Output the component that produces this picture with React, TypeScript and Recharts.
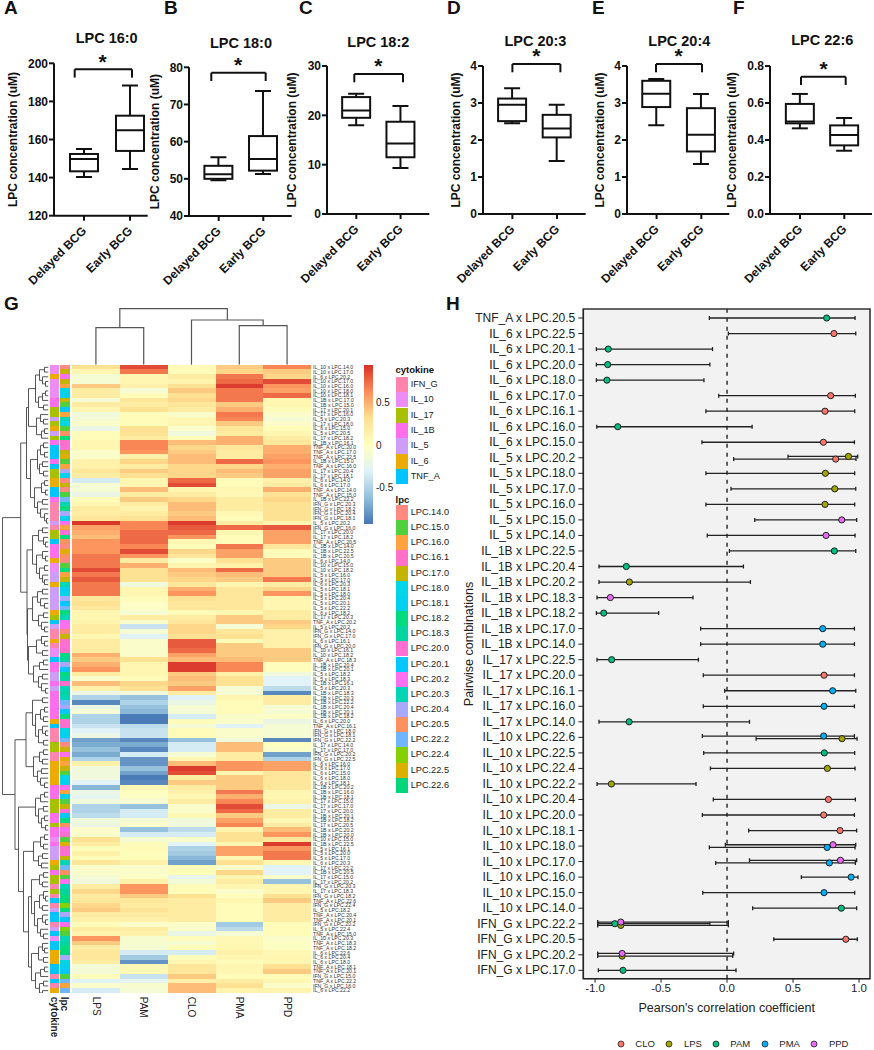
// LPC concentration box plots (A-F), cytokine x LPC correlation heatmap (G), forest plot (H)
import {
  Bar, BarChart, Cell, ComposedChart, ErrorBar, Line, LineChart, ReferenceArea, ReferenceLine,
  Scatter, ScatterChart, XAxis, YAxis,
} from 'recharts'

const FONT = '"Liberation Sans", Arial, sans-serif'
const INK = '#111'

// ---------- box plots: [min, q1, median, q3, max] for Delayed BCG, Early BCG
const groups = ['Delayed BCG', 'Early BCG']
const lpc160 = [[140.3, 143.3, 149.8, 152.4, 155], [144.5, 154, 164.8, 172.5, 188.3]]
const lpc180 = [[49.6, 50, 51.2, 53.5, 55.8], [51.3, 52.2, 55.3, 61.5, 73.6]]
const lpc182 = [[18, 19.5, 21, 23.7, 24.4], [9.3, 11.5, 14.3, 18.7, 21.9]]
const lpc203 = [[2.45, 2.51, 2.95, 3.12, 3.4], [1.43, 2.07, 2.31, 2.68, 2.95]]
const lpc204 = [[2.4, 2.89, 3.25, 3.6, 3.65], [1.35, 1.69, 2.14, 2.86, 3.24]]
const lpc226 = [[0.463, 0.49, 0.5, 0.595, 0.649], [0.342, 0.371, 0.427, 0.479, 0.519]]

// ---------- heatmap
const cytokineNames = ['IFN_G', 'IL_10', 'IL_17', 'IL_1B', 'IL_5', 'IL_6', 'TNF_A']
const cytokineColors = ['#FF85AC', '#EE8CF5', '#A9C000', '#FF6FEB', '#CC9EF8', '#EBAB00', '#00C4FF']
const lpcNames = ['LPC.14.0', 'LPC.15.0', 'LPC.16.0', 'LPC.16.1', 'LPC.17.0', 'LPC.18.0', 'LPC.18.1', 'LPC.18.2', 'LPC.18.3', 'LPC.20.0',
  'LPC.20.1', 'LPC.20.2', 'LPC.20.3', 'LPC.20.4', 'LPC.20.5', 'LPC.22.2', 'LPC.22.4', 'LPC.22.5', 'LPC.22.6']
const lpcColors = ['#FF8B80', '#4FD03C', '#FFA23F', '#FF70C8', '#C4B400', '#00D5E8', '#00D0F0', '#00DB80', '#00D4A0', '#FF70D0',
  '#00C8FF', '#FF70F0', '#00D5B5', '#A9A8FF', '#FF9060', '#6FB5FF', '#85D000', '#DDB000', '#00D77D']

const rowCytokines = `IL_10 IL_10 IL_6 IL_10 IL_10 IL_10 IL_10 IL_1B IL_1B IL_17
IL_17 IL_5 IL_17 IL_6 IL_5 IL_17 IL_1B TNF_A TNF_A TNF_A
IL_1B TNF_A IL_17 IL_17 IL_6 IL_6 TNF_A TNF_A IL_1B IFN_G
IFN_G IFN_G IFN_G IL_5 IFN_G IL_17 IL_17 TNF_A IL_1B IL_1B
IL_1B IL_6 IL_10 IL_10 IL_5 IL_5 IL_6 IL_5 IL_5 IL_5
IL_5 IL_5 IL_6 IL_17 TNF_A IL_5 IFN_G IFN_G IL_6 IFN_G
IL_10 IL_10 TNF_A IL_1B IL_1B IL_5 IL_5 IL_1B IL_5 IL_1B
IL_1B IL_1B IL_1B IL_1B IL_1B IL_6 TNF_A IFN_G IFN_G IFN_G
IL_17 IL_17 IFN_G IFN_G IL_6 IL_6 IL_6 IL_6 IL_6 IL_1B
IL_1B IL_1B IL_17 IL_17 IL_17 IL_1B IL_1B IL_17 IL_1B IL_1B
IL_10 IL_1B IL_5 IL_5 IL_5 IL_6 IL_17 IL_1B IL_17 IL_17
IFN_G IL_17 IFN_G TNF_A IFN_G IL_5 TNF_A TNF_A IFN_G IL_5
TNF_A IL_10 TNF_A TNF_A IL_6 IL_6 IL_6 TNF_A TNF_A IFN_G
TNF_A IFN_G IL_6`.split(/\s+/)

const rowLpcs = `14.0 17.0 20.2 17.0 16.0 18.0 18.1 17.0 15.0 20.1
16.0 20.3 18.0 15.0 20.5 18.2 16.1 20.0 17.0 22.5
15.0 16.0 20.4 18.1 14.0 17.0 14.0 15.0 22.2 20.3
18.2 20.4 18.1 20.2 16.0 20.0 18.2 20.5 14.0 22.5
20.5 14.0 15.0 18.2 16.0 17.0 20.3 18.1 18.0 20.4
20.1 22.2 18.2 20.3 20.2 20.2 14.0 17.0 16.1 20.0
16.1 18.2 18.3 20.4 20.1 18.2 18.3 16.1 20.3 18.3
20.3 22.2 20.4 20.1 18.2 20.0 16.1 18.0 18.1 22.2
14.0 17.0 20.2 22.5 16.0 17.0 15.0 18.0 18.1 20.2
16.0 18.1 15.0 17.0 20.0 20.1 18.2 20.5 20.2 20.0
15.0 22.5 16.1 20.0 17.0 20.3 22.2 20.5 15.0 20.2
20.3 18.3 18.2 22.6 22.4 18.2 20.4 20.1 20.2 22.4
15.0 20.3 18.3 18.2 22.6 20.4 18.0 18.1 20.1 15.0
22.2 16.0 22.2`.split(/\s+/).map((s) => 'LPC.' + s)

const lpsValues = [
  0.3, 0.1, -0.1, -0.1, 0.4, 0.2, 0.2, -0.1, 0.2, 0.1,
  -0.15, -0.1, -0.05, -0.2, 0.05, 0.05, 0.1, 0.1, -0.05, -0.05,
  0.15, 0.15, 0.25, 0.2, -0.35, -0.1, -0.1, -0.2, 0.05, 0.1,
  0.2, 0.2, 0.25, 0.92, 0.55, 0.5, 0.45, 0.6, 0.6, 0.6,
  0.7, 0.7, 0.7, 0.85, 0.7, 0.8, 0.7, 0.7, 0.7, 0.25,
  0.3, 0.25, 0.1, 0.1, 0.12, 0.2, 0.2, 0.1, 0.2, 0.2,
  0.2, 0.5, 0.4, 0.5, 0.6, 0.2, -0.05, 0.45, 0.15, -0.2,
  -0.5, -0.85, -0.2, -0.1, -0.5, -0.5, -0.4, -0.3, -0.2, -0.75,
  -0.7, -0.6, -0.7, -0.5, 0.15, -0.15, -0.15, -0.15, -0.3, -0.65,
  -0.2, -0.25, -0.15, -0.5, -0.5, -0.45, -0.15, -0.2, -0.05, -0.05,
  0.3, 0.2, 0.05, 0.15, 0.05, 0.25, -0.05, -0.05, -0.1, -0.15,
  0.2, 0.35, 0.2, 0.25, 0.35, 0.4, 0.2, 0.15, 0.05, 0.2,
  0.12, 0.6, 0.4, 0.2, 0.25, 0.25, 0.2, -0.12, -0.12, 0.05,
  -0.3, -0.05, -0.35,
]
const pamValues = [
  0.85, 0.7, 0.1, 0.1, 0.15, -0.1, 0.05, 0.25, 0.2, 0.3,
  0.05, 0.05, 0.05, 0.3, 0.3, 0.2, 0.65, 0.65, 0.6, 0.15,
  0.35, 0.2, 0.4, 0.3, 0.1, 0.1, 0.45, 0.2, 0.4, 0.2,
  0.12, 0.2, 0.3, 0.65, 0.65, 0.75, 0.75, 0.75, 0.65, 0.85,
  0.6, 0.2, 0.5, 0.3, 0.3, 0.3, -0.15, 0.1, 0.1, 0.05,
  -0.03, -0.03, -0.1, 0.2, -0.05, -0.4, -0.1, -0.3, -0.05, -0.05,
  -0.05, -0.05, 0.3, 0.1, 0.1, 0.1, 0.05, 0.35, 0.3, -0.15,
  -0.6, -0.5, -0.6, -0.65, -0.9, -0.9, -0.45, -0.4, -0.4, -0.85,
  -0.7, -0.85, -0.35, -0.8, -0.8, -0.6, -0.75, -0.9, -0.85, 0.08,
  0, -0.03, -0.1, -0.6, -0.35, -0.35, -0.1, -0.05, -0.6, -0.35,
  -0.1, 0.05, 0.05, 0.03, 0.05, 0.15, -0.05, -0.05, -0.02, 0.15,
  0.6, 0.6, 0.4, 0.25, 0.2, 0.3, 0.2, 0.15, -0.05, 0.2,
  0.15, -0.08, -0.08, -0.1, -0.35, -0.55, -0.8, 0.08, 0.08, -0.4,
  -0.25, -0.08, -0.1,
]
const cloValues = [
  0.05, 0.05, 0.2, 0.12, 0.3, 0.4, 0.3, 0.35, 0.25, 0.2,
  -0.05, 0.1, 0.1, -0.05, -0.15, 0.05, 0.45, 0.35, 0.4, 0.45,
  0.45, 0.35, 0.35, 0.35, 0.75, 0.85, 0.1, 0.2, 0.35, 0.45,
  0.45, 0.4, 0.45, 0.9, 0.8, 0.75, 0.6, 0.1, 0.05, 0.35,
  0.25, -0.03, 0.1, 0.45, 0.4, 0.35, 0.25, 0.5, 0.6, 0.3,
  0.25, 0.25, 0.05, 0.2, 0.25, 0.35, 0.35, 0.3, 0.8, 0.8,
  0.75, 0.55, 0.45, 0.9, 0.9, 0.4, 0.45, 0.4, 0.55, 0.2,
  -0.3, -0.2, -0.1, -0.1, -0.35, 0.05, -0.1, 0.05, 0.05, -0.6,
  -0.35, -0.35, -0.1, 0.1, 0.45, 0.9, 0.85, 0.2, 0.4, 0.2,
  0.15, 0.1, 0.2, -0.05, -0.05, 0.08, -0.15, -0.15, -0.45, -0.35,
  -0.05, -0.3, -0.5, -0.55, -0.65, -0.75, 0.05, 0.05, -0.25, -0.12,
  0.05, 0.05, 0.3, 0.2, 0.2, 0.2, 0.2, 0.2, -0.05, -0.05,
  -0.2, 0.05, -0.1, 0.05, -0.35, 0.05, 0.1, 0.25, 0.25, 0.4,
  0.15, 0.45, 0.45,
]
const pmaValues = [
  0.4, 0.35, 0.7, 0.75, 0.9, 0.7, 0.7, 0.7, 0.4, 0.5,
  0.7, 0.65, 0.4, 0.25, 0.2, 0.5, 0.5, 0.25, 0.2, 0.2,
  0.75, 0.35, 0.45, 0.4, 0.05, 0.05, 0.1, 0.08, 0.2, 0.2,
  0.2, 0.08, 0.05, 0.2, 0.75, 0.1, 0.05, 0.05, 0.7, 0.55,
  0.55, 0.3, 0.15, 0.75, 0.45, 0.4, 0.1, 0.25, 0.25, 0.25,
  0.25, 0.25, 0.1, 0.4, 0.4, -0.1, 0.25, 0.3, 0.05, 0.4,
  0.4, 0.4, 0.45, 0.65, 0.65, 0.15, 0.3, 0.3, -0.1, -0.1,
  0.1, 0.05, 0.05, 0.05, -0.05, -0.05, -0.3, -0.05, -0.05, -0.15,
  0.45, 0.45, 0.2, 0.2, 0.6, 0.6, 0.1, 0.4, 0.4, 0.4,
  0.7, 0.5, 0.65, 0.85, 0.75, 0.4, 0.55, 0.65, 0.12, 0.3,
  0.3, 0.1, 0.55, 0.55, 0.1, 0.3, -0.05, 0.35, 0.1, 0.2,
  0.1, -0.05, 0.02, 0.1, 0.05, 0.05, 0.05, 0.05, -0.55, -0.45,
  -0.1, 0.08, 0.08, 0.1, 0.15, 0.1, 0.05, 0.1, 0.1, 0.05,
  0.2, 0.3, 0.12,
]
const ppdValues = [
  0.65, 0.4, 0.35, 0.85, 0.6, 0.55, 0.75, 0.1, 0.1, 0.05,
  -0.05, -0.1, -0.05, 0.05, 0.1, 0.2, 0.25, 0.5, 0.5, 0.55,
  0.6, 0.5, 0.55, 0.55, 0.15, 0.2, 0.5, 0.3, 0.35, 0.3,
  0.3, 0.3, 0.3, 0.1, 0.8, 0.55, 0.55, 0.55, 0.25, 0.05,
  0.05, 0.4, 0.4, 0.4, 0.4, 0.7, 0.2, 0.35, 0.6, 0.1,
  0.1, 0.1, 0.2, 0.2, 0.4, 0.35, 0.15, 0.15, 0.15, 0.15,
  0.4, 0.4, 0.4, 0.03, 0.03, -0.15, -0.3, -0.3, -0.45, -0.85,
  0.2, 0.2, -0.1, -0.1, -0.02, -0.2, -0.1, -0.1, -0.1, -0.85,
  0, -0.05, -0.75, -0.5, 0.55, 0.55, 0.25, 0.25, 0.25, 0.25,
  0.1, 0.1, 0.15, -0.2, 0.2, 0.2, 0.08, 0.2, 0.45, 0.6,
  0.25, 0.9, 0.6, 0.7, 0.7, 0.1, -0.3, -0.3, -0.05, -0.6,
  0.1, 0.1, 0.3, 0.4, 0.2, 0.2, 0.2, 0.2, 0.05, 0.05,
  0.05, -0.05, -0.02, -0.02, 0.08, 0.1, 0.1, 0.3, 0.4, 0.05,
  0.1, -0.05, 0.12,
]
const stimuli = ['LPS', 'PAM', 'CLO', 'PMA', 'PPD']
const stimulusValues = [lpsValues, pamValues, cloValues, pmaValues, ppdValues]

// dendrograms as [merge height, left, right], 0 is a leaf
const columnTree = [56, [37, 0, 0], [44.7, 0, [39, 0, 0]]]
const rowTree = [46,
  [27.8,
    [22,
      [20,
        [13, [9, [4, 0, 0], [6, 0, [3, 0, 0]]], [10, [6, [3, 0, 0], 0], [5, 0, 0]]],
        [12, [8, 0, [5, 0, 0]], [7, [4, 0, 0], 0]]],
      [18,
        [11, [8, [5, 0, 0], [4, 0, 0]], [9, [6, 0, 0], [5, 0, 0]]],
        [14, [7, [4, 0, 0], [3, 0, 0]], [11, [6, 0, 0], [8, 0, [4, 0, [2, 0, 0]]]]]]],
    [21.5,
      [16, [10, [6, 0, 0], [5, 0, [3, 0, 0]]], [12, [6, 0, [3, 0, 0]], [9, [4, 0, 0], [6, 0, [4, 0, 0]]]]],
      [21,
        [16, [11, [6, 0, 0], [8, 0, [4, 0, 0]]], [10, [5, 0, 0], [7, 0, [4, 0, 0]]]],
        [20, [12, [7, 0, [4, 0, 0]], [6, 0, 0]], [15, [9, [5, 0, 0], 0], [10, [6, 0, 0], [7, 0, [3, 0, 0]]]]]]]],
  [33.5,
    [22.5,
      [16, [6, 0, 0], [13, [8, [4, 0, 0], [5, 0, 0]], [10, [6, 0, [3, 0, 0]], [5, 0, 0]]]],
      [15, [9, [5, 0, 0], [6, 0, 0]], [11, [7, 0, 0], [8, 0, [4, 0, 0]]]]],
    [30,
      [13, [8, [4, 0, 0], 0], [10, [5, 0, 0], [7, [4, 0, 0], [3, 0, 0]]]],
      [25,
        [15, [8, [4, 0, 0], [5, 0, 0]], [10, [6, 0, 0], [7, 0, 0]]],
        [20,
          [17,
            [9, [5, 0, 0], [6, 0, 0]],
            [14, [9, [5, 0, [3, 0, 0]], [6, 0, 0]], [11, [6, 0, [3, 0, 0]], [8, 0, [5, 0, 0]]]]],
          [17, [10, [6, 0, [4, 0, 0]], [5, 0, 0]], [13, [8, [4, 0, 0], 0], [9, [5, 0, 0], [6, 0, 0]]]]]]]]]

// ---------- forest plot: [pair, r, ci low, ci high]
const pairLabels = ['TNF_A x LPC.20.5', 'IL_6 x LPC.22.5', 'IL_6 x LPC.20.1', 'IL_6 x LPC.20.0', 'IL_6 x LPC.18.0', 'IL_6 x LPC.17.0',
  'IL_6 x LPC.16.1', 'IL_6 x LPC.16.0', 'IL_6 x LPC.15.0', 'IL_5 x LPC.20.2', 'IL_5 x LPC.18.0', 'IL_5 x LPC.17.0', 'IL_5 x LPC.16.0',
  'IL_5 x LPC.15.0', 'IL_5 x LPC.14.0', 'IL_1B x LPC.22.5', 'IL_1B x LPC.20.4', 'IL_1B x LPC.20.2', 'IL_1B x LPC.18.3', 'IL_1B x LPC.18.2',
  'IL_1B x LPC.17.0', 'IL_1B x LPC.14.0', 'IL_17 x LPC.22.5', 'IL_17 x LPC.20.0', 'IL_17 x LPC.16.1', 'IL_17 x LPC.16.0', 'IL_17 x LPC.14.0',
  'IL_10 x LPC.22.6', 'IL_10 x LPC.22.5', 'IL_10 x LPC.22.4', 'IL_10 x LPC.22.2', 'IL_10 x LPC.20.4', 'IL_10 x LPC.20.0', 'IL_10 x LPC.18.1',
  'IL_10 x LPC.18.0', 'IL_10 x LPC.17.0', 'IL_10 x LPC.16.0', 'IL_10 x LPC.15.0', 'IL_10 x LPC.14.0', 'IFN_G x LPC.22.2', 'IFN_G x LPC.20.5',
  'IFN_G x LPC.20.2', 'IFN_G x LPC.17.0']

const cloRows: [string, number, number, number][] = [
  ['IL_6 x LPC.22.5', 0.81, 0.01, 0.975], ['IL_6 x LPC.17.0', 0.785, -0.063, 0.972], ['IL_6 x LPC.16.1', 0.742, -0.16, 0.967],
  ['IL_6 x LPC.15.0', 0.73, -0.19, 0.965], ['IL_5 x LPC.20.2', 0.823, 0.05, 0.977], ['IL_17 x LPC.20.0', 0.735, -0.18, 0.965],
  ['IL_10 x LPC.20.4', 0.768, -0.104, 0.972], ['IL_10 x LPC.20.0', 0.732, -0.187, 0.965], ['IL_10 x LPC.18.1', 0.856, 0.164, 0.982],
  ['IFN_G x LPC.20.5', 0.9, 0.354, 0.987],
]
const lpsRows: [string, number, number, number][] = [
  ['IL_5 x LPC.20.2', 0.92, 0.462, 0.99], ['IL_5 x LPC.18.0', 0.745, -0.16, 0.967], ['IL_5 x LPC.17.0', 0.816, 0.03, 0.975],
  ['IL_5 x LPC.16.0', 0.742, -0.16, 0.967], ['IL_1B x LPC.20.2', -0.74, -0.97, 0.177], ['IL_10 x LPC.22.6', 0.871, 0.22, 0.985],
  ['IL_10 x LPC.22.4', 0.76, -0.126, 0.97], ['IL_10 x LPC.22.2', -0.876, -0.985, -0.235], ['IFN_G x LPC.22.2', -0.805, -0.98, 0.01],
  ['IFN_G x LPC.20.2', -0.795, -0.98, 0.043],
]
const pamRows: [string, number, number, number][] = [
  ['TNF_A x LPC.20.5', 0.755, -0.134, 0.97], ['IL_6 x LPC.20.1', -0.9, -0.99, -0.11], ['IL_6 x LPC.20.0', -0.904, -0.99, -0.13],
  ['IL_6 x LPC.18.0', -0.91, -0.99, -0.175], ['IL_6 x LPC.16.0', -0.828, -0.987, 0.19], ['IL_1B x LPC.22.5', 0.813, 0.018, 0.975],
  ['IL_1B x LPC.20.4', -0.763, -0.97, 0.124], ['IL_1B x LPC.18.2', -0.934, -0.99, -0.518], ['IL_17 x LPC.22.5', -0.874, -0.985, -0.217],
  ['IL_17 x LPC.14.0', -0.742, -0.97, 0.17], ['IL_10 x LPC.22.5', 0.737, -0.177, 0.967], ['IL_10 x LPC.14.0', 0.866, 0.194, 0.982],
  ['IFN_G x LPC.22.2', -0.85, -0.98, -0.13], ['IFN_G x LPC.17.0', -0.788, -0.975, 0.068],
]
const pmaRows: [string, number, number, number][] = [
  ['IL_1B x LPC.17.0', 0.725, -0.2, 0.965], ['IL_1B x LPC.14.0', 0.725, -0.2, 0.965], ['IL_17 x LPC.16.1', 0.8, -0.018, 0.975],
  ['IL_17 x LPC.16.0', 0.735, -0.18, 0.965], ['IL_10 x LPC.22.6', 0.732, -0.187, 0.965], ['IL_10 x LPC.18.0', 0.758, -0.134, 0.97],
  ['IL_10 x LPC.17.0', 0.775, -0.086, 0.972], ['IL_10 x LPC.16.0', 0.94, 0.563, 0.992], ['IL_10 x LPC.15.0', 0.735, -0.184, 0.967],
]
const ppdRows: [string, number, number, number][] = [
  ['IL_5 x LPC.15.0', 0.869, 0.21, 0.982], ['IL_5 x LPC.14.0', 0.75, -0.15, 0.97], ['IL_1B x LPC.18.3', -0.884, -0.985, -0.258],
  ['IL_10 x LPC.18.0', 0.803, -0.013, 0.975], ['IL_10 x LPC.17.0', 0.859, 0.17, 0.982], ['IFN_G x LPC.22.2', -0.805, -0.98, 0.01],
  ['IFN_G x LPC.20.2', -0.795, -0.98, 0.05],
]
const forestSeries = [
  { name: 'CLO', color: '#F8766D', rows: cloRows },
  { name: 'LPS', color: '#A3A500', rows: lpsRows },
  { name: 'PAM', color: '#00BF7D', rows: pamRows },
  { name: 'PMA', color: '#00B0F6', rows: pmaRows },
  { name: 'PPD', color: '#E76BF3', rows: ppdRows },
]

// ---------- helpers
const RAMP = ['#4575B4', '#91BFDB', '#E0F3F8', '#FFFFBF', '#FEE090', '#FC8D59', '#D73027']
const R_MIN = -0.93
const R_MAX = 0.94

function heatColor(v: number) {
  const t = Math.min(0.9999, Math.max(0, (v - R_MIN) / (R_MAX - R_MIN))) * (RAMP.length - 1)
  const i = Math.floor(t)
  const f = t - i
  const hex = (s: string, k: number) => parseInt(s.slice(1 + k * 2, 3 + k * 2), 16)
  const mix = [0, 1, 2].map((k) => Math.round(hex(RAMP[i], k) * (1 - f) + hex(RAMP[i + 1], k) * f))
  return `rgb(${mix[0]},${mix[1]},${mix[2]})`
}

function dendroPoints(tree: any) {
  const pts: { pos: number | null; h: number | null }[] = []
  let leaf = 0
  const walk = (n: any): { pos: number; h: number } => {
    if (n === 0) {
      leaf += 1
      return { pos: leaf - 0.5, h: 0 }
    }
    const a = walk(n[1])
    const b = walk(n[2])
    pts.push({ pos: a.pos, h: a.h }, { pos: a.pos, h: n[0] }, { pos: b.pos, h: n[0] }, { pos: b.pos, h: b.h }, { pos: null, h: null })
    return { pos: (a.pos + b.pos) / 2, h: n[0] }
  }
  walk(tree)
  return pts
}

// ---------- box panel
const BOX_STROKE = 2

function BoxShape(props: any) {
  const { x, y, width, height, payload } = props
  const [min, q1, med, q3, max] = payload.stats
  const top = Math.min(y, y + height)
  const ppu = Math.abs(height) / (q3 - q1)
  const yOf = (v: number) => top + (q3 - v) * ppu
  const cx = x + width / 2
  const s = { stroke: INK, strokeWidth: BOX_STROKE }
  return (
    <g>
      <line x1={cx} x2={cx} y1={yOf(max)} y2={yOf(q3)} {...s} />
      <line x1={cx} x2={cx} y1={yOf(q1)} y2={yOf(min)} {...s} />
      <line x1={cx - 8} x2={cx + 8} y1={yOf(max)} y2={yOf(max)} {...s} />
      <line x1={cx - 8} x2={cx + 8} y1={yOf(min)} y2={yOf(min)} {...s} />
      <rect x={x} y={top} width={width} height={Math.abs(height)} fill="#fff" {...s} />
      <line x1={x} x2={x + width} y1={yOf(med)} y2={yOf(med)} {...s} />
    </g>
  )
}

function GroupTick({ x, y, payload }: any) {
  return (
    <text x={x + 3} y={y + 9} textAnchor="end" fontSize={12} fontWeight="bold" fontFamily={FONT} fill={INK}
      transform={`rotate(-45 ${x + 3} ${y + 9})`}>
      {groups[payload.value - 1]}
    </text>
  )
}

const AXIS_W = 52

function BoxPanel({ title, letter, letterX, stats, domain, ticks, fmt, g }: any) {
  const unit = g.cat2 - g.cat1
  const xDomain = [1 - (g.cat1 - g.left) / unit, 2 + (g.right - g.cat2) / unit]
  const chartTop = 24
  const height = 290 - chartTop
  const data = groups.map((name, i) => ({ pos: i + 1, name, box: [stats[i][1], stats[i][3]], stats: stats[i] }))
  const toY = (px: number) => domain[1] - ((px - g.top) / (g.bottom - g.top)) * (domain[1] - domain[0])
  const toX = (px: number) => 1 + (px - g.cat1) / unit
  const lineProps = { stroke: INK, strokeWidth: BOX_STROKE, ifOverflow: 'visible' as const }
  const originX = g.left - AXIS_W
  return (
    <>
      <div style={{ position: 'absolute', left: letterX, top: 0, font: `bold 19px/15px ${FONT}`, color: INK }}>{letter}</div>
      <div style={{ position: 'absolute', left: originX, top: chartTop }}>
        <ComposedChart width={g.right - originX + 2} height={height} data={data}
          margin={{ top: g.top - chartTop, right: 2, left: 0, bottom: height - (g.bottom - chartTop) - 60 }}>
          <XAxis dataKey="pos" type="number" domain={xDomain} ticks={[1, 2]} height={60} interval={0}
            tick={<GroupTick />} tickSize={5} stroke={INK} strokeWidth={BOX_STROKE} tickLine={{ stroke: INK, strokeWidth: BOX_STROKE }} allowDataOverflow />
          <YAxis type="number" domain={domain} ticks={ticks} width={AXIS_W} interval={0} tickFormatter={fmt} tickSize={5} tickMargin={1}
            stroke={INK} strokeWidth={BOX_STROKE} tickLine={{ stroke: INK, strokeWidth: BOX_STROKE }} allowDataOverflow
            tick={{ fontSize: 12, fontWeight: 'bold', fontFamily: FONT, fill: INK }} />
          <Bar dataKey="box" barSize={28} shape={<BoxShape />} isAnimationActive={false} />
          <ReferenceLine {...lineProps} segment={[{ x: toX(g.brL), y: toY(g.brY) }, { x: toX(g.brR), y: toY(g.brY) }]} />
          <ReferenceLine {...lineProps} segment={[{ x: toX(g.brL), y: toY(g.brY) }, { x: toX(g.brL), y: toY(g.brY + 8.3) }]} />
          <ReferenceLine {...lineProps} segment={[{ x: toX(g.brR), y: toY(g.brY) }, { x: toX(g.brR), y: toY(g.brY + 8.3) }]} />
          <text x={g.titleX - originX} y={g.titleY - chartTop + 5} textAnchor="middle" fontSize={14.5} fontWeight="bold" fontFamily={FONT} fill={INK}>{title}</text>
          <text x={g.starX - originX} y={g.starY - chartTop + 9} textAnchor="middle" fontSize={21} fontWeight="bold" fontFamily={FONT} fill={INK}>*</text>
          <text transform={`translate(${g.labelX - originX} ${(g.top + g.bottom) / 2 - chartTop}) rotate(-90)`} textAnchor="middle" dominantBaseline="central"
            fontSize={12} fontWeight="bold" fontFamily={FONT} fill={INK}>LPC concentration (uM)</text>
        </ComposedChart>
      </div>
    </>
  )
}

// ---------- heatmap
const CYT_W = 0.188
const GAP_A = 0.027
const LPC_W = 0.195
const GAP_B = 0.056
const HEAT_START = CYT_W + GAP_A + LPC_W + GAP_B
const heatTable = rowCytokines.map((c, i) => ({
  label: `${c} x ${rowLpcs[i]}`,
  cytokine: CYT_W, gapA: GAP_A, lpc: LPC_W, gapB: GAP_B,
  LPS: 1, PAM: 1, CLO: 1, PMA: 1, PPD: 1,
}))
const heatTicks = [CYT_W / 2, CYT_W + GAP_A + LPC_W / 2, ...stimuli.map((_, i) => HEAT_START + i + 0.5)]
const heatTickText = ['cytokine', 'lpc', ...stimuli]

function HeatTick({ x, y, index }: any) {
  const bold = index < 2
  return (
    <text x={x} y={y} transform={`rotate(90 ${x} ${y})`} dominantBaseline="central" fontSize={10}
      fontWeight={bold ? 'bold' : 'normal'} fontFamily={FONT} fill="#222">
      {heatTickText[index]}
    </text>
  )
}

function RowTick({ x, y, payload }: any) {
  return (
    <text x={x} y={y} dominantBaseline="central" fontSize={5.2} fontFamily={FONT} fill="#333">{payload.value}</text>
  )
}

function Heatmap() {
  const crisp: any = { shapeRendering: 'crispEdges' }
  return (
    <div style={{ position: 'absolute', left: 40, top: 355 }}>
      <BarChart width={325} height={695} layout="vertical" data={heatTable} barCategoryGap={0}
        margin={{ top: 9.7, left: 10, right: 2, bottom: 12.3 }} stackOffset="none">
        <XAxis type="number" domain={[0, HEAT_START + 5]} ticks={heatTicks} interval={0} height={45} axisLine={false} tickLine={false}
          tickSize={0} tickMargin={4} tick={<HeatTick />} allowDataOverflow />
        <YAxis type="category" dataKey="label" orientation="right" width={52} interval={0} axisLine={false} tickLine={false}
          tickSize={0} tickMargin={2} tick={<RowTick />} />
        <Bar dataKey="cytokine" stackId="h" isAnimationActive={false} {...crisp}>
          {rowCytokines.map((c, i) => <Cell key={i} fill={cytokineColors[cytokineNames.indexOf(c)]} />)}
        </Bar>
        <Bar dataKey="gapA" stackId="h" fill="none" isAnimationActive={false} />
        <Bar dataKey="lpc" stackId="h" isAnimationActive={false} {...crisp}>
          {rowLpcs.map((c, i) => <Cell key={i} fill={lpcColors[lpcNames.indexOf(c)]} />)}
        </Bar>
        <Bar dataKey="gapB" stackId="h" fill="none" isAnimationActive={false} />
        {stimuli.map((s, k) => (
          <Bar key={s} dataKey={s} stackId="h" isAnimationActive={false} {...crisp}>
            {stimulusValues[k].map((v, i) => <Cell key={i} fill={heatColor(v)} />)}
          </Bar>
        ))}
      </BarChart>
    </div>
  )
}

function Dendrograms() {
  return (
    <>
      <div style={{ position: 'absolute', left: 72, top: 300 }}>
        <LineChart width={239} height={64.7} data={dendroPoints(columnTree)} margin={{ top: 0, right: 0, bottom: 0, left: 0 }}>
          <XAxis dataKey="pos" type="number" domain={[0, 5]} hide allowDataOverflow />
          <YAxis type="number" domain={[0, 64.7]} hide allowDataOverflow />
          <Line dataKey="h" stroke="#555" strokeWidth={1.2} dot={false} isAnimationActive={false} />
        </LineChart>
      </div>
      <div style={{ position: 'absolute', left: 0, top: 364.7 }}>
        <LineChart width={48.5} height={628} data={dendroPoints(rowTree)} margin={{ top: 0, right: 0, bottom: 0, left: 0 }}>
          <XAxis dataKey="h" type="number" domain={[0, 48.5]} reversed hide allowDataOverflow />
          <YAxis type="number" domain={[0, 133]} reversed hide allowDataOverflow />
          <Line dataKey="pos" stroke="#444" strokeWidth={0.9} dot={false} isAnimationActive={false} />
        </LineChart>
      </div>
    </>
  )
}

function ColorBar() {
  const data = [{ name: 'r', range: [-0.926, 0.941] }]
  return (
    <div style={{ position: 'absolute', left: 364.3, top: 364.7 }}>
      <BarChart width={39} height={159.3} data={data} barCategoryGap={0} margin={{ top: 0, right: 0, bottom: 0, left: 0 }}>
        <defs>
          <linearGradient id="cbar" x1="0" y1="1" x2="0" y2="0">
            {RAMP.map((c, i) => <stop key={c} offset={i / (RAMP.length - 1)} stopColor={c} />)}
          </linearGradient>
        </defs>
        <XAxis dataKey="name" hide />
        <YAxis type="number" orientation="right" domain={[-0.926, 0.941]} ticks={[-0.5, 0, 0.5]} width={30} axisLine={false} tickLine={false}
          tickSize={0} tickMargin={3} interval={0} allowDataOverflow tick={{ fontSize: 10, fontFamily: FONT, fill: '#222' }} />
        <Bar dataKey="range" fill="url(#cbar)" isAnimationActive={false} />
      </BarChart>
    </div>
  )
}

function SwatchLegend({ title, names, colors, titleTop, top, itemH }: any) {
  return (
    <>
      <div style={{ position: 'absolute', left: 395.5, top: titleTop, font: `bold 9.5px ${FONT}`, color: '#111' }}>{title}</div>
      {names.map((n: string, i: number) => (
        <div key={n}>
          <div style={{ position: 'absolute', left: 396, top: top + i * itemH, width: 11.5, height: itemH, background: colors[i] }} />
          <div style={{ position: 'absolute', left: 410.7, top: top + i * itemH, font: `9.2px/${itemH}px ${FONT}`, color: '#222' }}>{n}</div>
        </div>
      ))}
    </>
  )
}

// ---------- forest plot
const stimOrder = ['PPD', 'PMA', 'PAM', 'LPS', 'CLO']
function forestData(name: string, rows: [string, number, number, number][]) {
  return rows.map(([pair, r, lo, hi]) => {
    const inRow = stimOrder.filter((s) => forestSeries.find((f) => f.name === s)!.rows.some((q) => q[0] === pair))
    const n = inRow.length
    const step = n === 3 ? 0.107 : 0.17
    return { r, y: pairLabels.indexOf(pair) + (inRow.indexOf(name) - (n - 1) / 2) * step, err: [r - lo, hi - r] }
  })
}

function ForestDot({ cx, cy, fill }: any) {
  return <circle cx={cx} cy={cy} r={3.1} fill={fill} stroke="#222" strokeWidth={1} />
}

function PairTick({ x, y, payload }: any) {
  return (
    <text x={x} y={y} textAnchor="end" dominantBaseline="central" fontSize={12} fontFamily={FONT} fill="#222">{pairLabels[payload.value]}</text>
  )
}

function Forest() {
  const xMin = -1.089
  const xMax = 1.083
  const yMin = -0.58
  const yMax = 42.54
  const left = 460
  const top = 290
  const text = { fontFamily: FONT, fill: '#222' }
  return (
    <div style={{ position: 'absolute', left, top }}>
      <ScatterChart width={414} height={760} margin={{ top: 19, right: 4, left: 0, bottom: 41.3 }}>
        <ReferenceArea x1={xMin} x2={xMax} y1={yMin} y2={yMax} fill="#F2F2F2" stroke="#333" strokeWidth={1.6} fillOpacity={1} ifOverflow="visible" />
        <XAxis type="number" dataKey="r" domain={[xMin, xMax]} ticks={[-1, -0.5, 0, 0.5, 1]} tickFormatter={(v: number) => v.toFixed(1)} height={30} interval={0}
          stroke="#222" tickSize={4} tickMargin={1} allowDataOverflow tick={{ fontSize: 11.5, ...text }} />
        <YAxis type="number" dataKey="y" domain={[yMin, yMax]} reversed ticks={pairLabels.map((_, i) => i)}
          width={123.3} interval={0} stroke="#222" tickSize={5} tickMargin={3} allowDataOverflow tick={<PairTick />} />
        <ReferenceLine x={0} stroke="#222" strokeWidth={1.4} strokeDasharray="4 5" />
        {forestSeries.map((s) => (
          <Scatter key={s.name} name={s.name} data={forestData(s.name, s.rows)} fill={s.color} shape={<ForestDot />} isAnimationActive={false}>
            <ErrorBar dataKey="err" direction="x" width={2} stroke="#222" strokeWidth={1.3} isAnimationActive={false} />
          </Scatter>
        ))}
        <text x={726.7 - left} y={1008 - top} textAnchor="middle" dominantBaseline="central" fontSize={12.5} {...text}>Pearson's correlation coefficient</text>
        <text transform={`translate(${469.3 - left} ${644 - top}) rotate(-90)`} textAnchor="middle" dominantBaseline="central" fontSize={12.5} {...text}>Pairwise combinations</text>
      </ScatterChart>
    </div>
  )
}

const legendDotX = [620.7, 669.3, 715.7, 764.7, 814.3]

function ForestLegend() {
  return (
    <>
      {forestSeries.map((s, i) => (
        <div key={s.name}>
          <svg style={{ position: 'absolute', left: legendDotX[i] - 5, top: 1039 }} width={10} height={10}>
            <circle cx={5} cy={5} r={3} fill={s.color} stroke="#222" strokeWidth={0.8} />
          </svg>
          <div style={{ position: 'absolute', left: legendDotX[i] + 14.6, top: 1038, font: `9.5px/12px ${FONT}`, color: '#222' }}>{s.name}</div>
        </div>
      ))}
    </>
  )
}

const int = (v: number) => String(v)
const dec1 = (v: number) => v.toFixed(1)

export default function App() {
  return (
    <div style={{ position: 'absolute', left: 0, top: 0, width: 874, height: 1050, background: '#fff', overflow: 'hidden' }}>
      <BoxPanel title="LPC 16:0" letter="A" letterX={4} stats={lpc160} domain={[120, 200]} ticks={[120, 140, 160, 180, 200]} fmt={int}
        g={{ left: 54.3, right: 148, top: 63.3, bottom: 215.7, cat1: 84.3, cat2: 130.3, titleX: 107, titleY: 38, starX: 103, starY: 60, brY: 69.3, brL: 75, brR: 132.3, labelX: 13 }} />
      <BoxPanel title="LPC 18:0" letter="B" letterX={164} stats={lpc180} domain={[40, 80]} ticks={[40, 50, 60, 70, 80]} fmt={int}
        g={{ left: 189, right: 291.7, top: 67.3, bottom: 216, cat1: 218.7, cat2: 263.3, titleX: 241, titleY: 42.7, starX: 238, starY: 63, brY: 72.7, brL: 211.3, brR: 265.7, labelX: 155 }} />
      <BoxPanel title="LPC 18:2" letter="C" letterX={299} stats={lpc182} domain={[0, 30]} ticks={[0, 10, 20, 30]} fmt={int}
        g={{ left: 326.7, right: 429, top: 66, bottom: 214, cat1: 356, cat2: 400.3, titleX: 378, titleY: 41.7, starX: 378, starY: 64, brY: 74, brL: 354, brR: 402.7, labelX: 291.7 }} />
      <BoxPanel title="LPC 20:3" letter="D" letterX={447} stats={lpc203} domain={[0, 4]} ticks={[0, 1, 2, 3, 4]} fmt={int}
        g={{ left: 483.3, right: 586, top: 66, bottom: 214, cat1: 512.7, cat2: 557.3, titleX: 535.7, titleY: 40.7, starX: 536.7, starY: 54, brY: 64, brL: 512.7, brR: 560.7, labelX: 456 }} />
      <BoxPanel title="LPC 20:4" letter="E" letterX={592} stats={lpc204} domain={[0, 4]} ticks={[0, 1, 2, 3, 4]} fmt={int}
        g={{ left: 626.7, right: 729, top: 66, bottom: 214, cat1: 656.3, cat2: 701, titleX: 679, titleY: 40.7, starX: 678.3, starY: 54, brY: 64, brL: 655.7, brR: 701.7, labelX: 599.3 }} />
      <BoxPanel title="LPC 22:6" letter="F" letterX={733} stats={lpc226} domain={[0, 0.8]} ticks={[0, 0.2, 0.4, 0.6, 0.8]} fmt={dec1}
        g={{ left: 770, right: 872, top: 66, bottom: 214, cat1: 800, cat2: 844.3, titleX: 822.3, titleY: 40, starX: 823.7, starY: 66.7, brY: 76.7, brL: 801, brR: 845.7, labelX: 731.7 }} />

      <div style={{ position: 'absolute', left: 4, top: 296, font: `bold 19px/15px ${FONT}`, color: INK }}>G</div>
      <Dendrograms />
      <Heatmap />
      <ColorBar />
      <SwatchLegend title="cytokine" names={cytokineNames} colors={cytokineColors} titleTop={363.5} top={376.7} itemH={15.4} />
      <SwatchLegend title="lpc" names={lpcNames} colors={lpcColors} titleTop={493.5} top={505} itemH={15.15} />

      <div style={{ position: 'absolute', left: 446, top: 296, font: `bold 19px/15px ${FONT}`, color: INK }}>H</div>
      <Forest />
      <ForestLegend />
    </div>
  )
}
